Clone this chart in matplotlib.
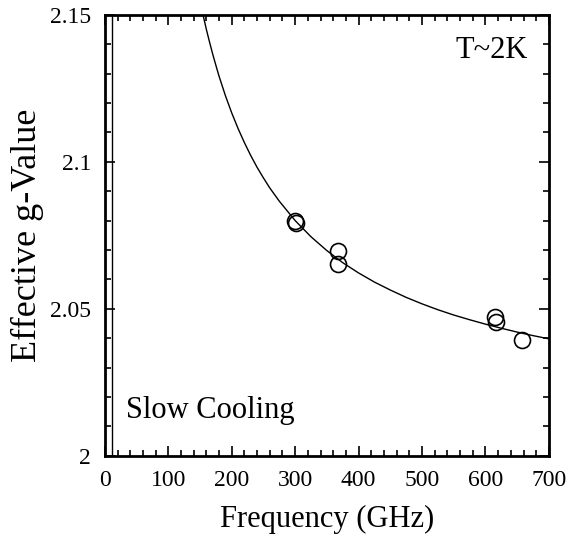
import matplotlib
matplotlib.use("Agg")
import matplotlib.pyplot as plt
from matplotlib.ticker import MultipleLocator, FuncFormatter

# measured points (GHz, g)
FREQ = [300, 301, 368, 368, 615, 616, 657]
G_EFF = [2.0798, 2.0793, 2.0698, 2.0653, 2.0474, 2.0456, 2.0395]

# fitted curve
CURVE_F = [150, 155, 160, 165, 170, 175, 180, 190, 200, 210, 220, 230, 240, 250,
           260, 275, 300, 325, 350, 375, 400, 425, 450, 475, 500, 525, 550,
           575, 600, 625, 650, 675, 700]
CURVE_G = [2.1547, 2.1497, 2.1450, 2.1407, 2.1366, 2.1328, 2.1291, 2.1225,
           2.1166, 2.1113, 2.1065, 2.1021, 2.0981, 2.0945, 2.0911, 2.0866,
           2.0800, 2.0745, 2.0698, 2.0657, 2.0622, 2.0591, 2.0564, 2.0539,
           2.0517, 2.0497, 2.0479, 2.0463, 2.0448, 2.0434, 2.0421, 2.0409, 2.0398]

ASYMPTOTE_F = 11

plt.rcParams['font.family'] = ['Liberation Serif', 'DejaVu Serif']

fig = plt.figure(figsize=(5.7, 5.46), dpi=100)
ax = fig.add_axes([0.184, 0.165, 0.779, 0.808])

ax.plot(CURVE_F, CURVE_G, color='black', lw=1.0)
ax.axvline(ASYMPTOTE_F, color='black', lw=1.0)
ax.plot(FREQ, G_EFF, 'o', ms=11.5, mfc='none', mec='black', mew=1.2)

ax.set_xlim(0, 700)
ax.set_ylim(2.0, 2.15)
ax.xaxis.set_major_locator(MultipleLocator(100))
ax.xaxis.set_minor_locator(MultipleLocator(20))
ax.yaxis.set_major_locator(MultipleLocator(0.05))
ax.yaxis.set_minor_locator(MultipleLocator(0.01))
ax.yaxis.set_major_formatter(FuncFormatter(lambda v, p: '%g' % round(v, 3)))

ax.tick_params(which='both', direction='in', top=True, right=True, width=1.2)
ax.tick_params(which='major', length=7, labelsize=17, pad=10)
ax.tick_params(which='minor', length=4)
for s in ax.spines.values():
    s.set_linewidth(2)

ax.set_xlabel("Frequency (GHz)", fontsize=22, labelpad=10)
ax.set_ylabel("Effective g-Value", fontsize=26, labelpad=4)

ax.text(0.953, 0.92, "T~2K", transform=ax.transAxes, ha='right', va='center', fontsize=22)
ax.text(0.047, 0.102, "Slow Cooling", transform=ax.transAxes, ha='left', va='center', fontsize=22)

fig.savefig("out.png", dpi=100)
